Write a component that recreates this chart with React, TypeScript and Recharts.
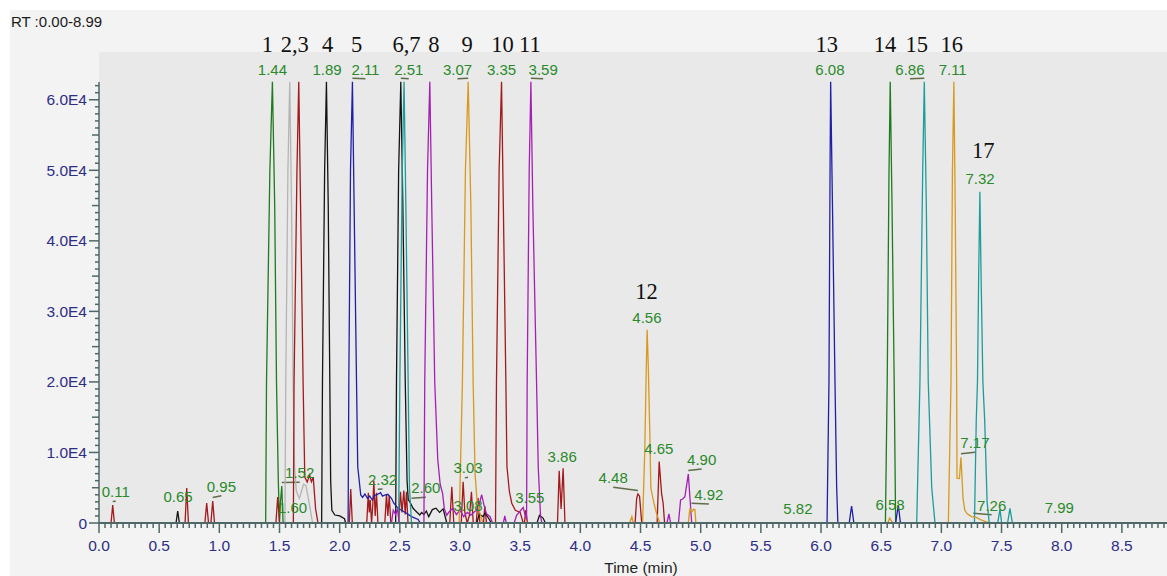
import {
  ComposedChart,
  Line,
  Scatter,
  XAxis,
  YAxis,
  ReferenceArea,
  ReferenceLine,
} from 'recharts';

// retention time (min), intensity
const greenTrace: [number, number][] = [
  [0, 0], [1.385, 0], [1.392, 20000], [1.42, 50000], [1.441, 62550], [1.46, 45000], [1.475, 20000],
  [1.49, 6000], [1.5, 0], [1.508, 3000], [1.519, 5250], [1.53, 0],
  [6.535, 0], [6.55, 20000], [6.565, 50000], [6.575, 62550], [6.59, 45000], [6.608, 20000], [6.62, 0],
  [8.875, 0],
];
const grayTrace: [number, number][] = [
  [0, 0], [1.545, 0], [1.552, 20000], [1.57, 50000], [1.585, 62550], [1.6, 45000], [1.613, 20000],
  [1.625, 8000], [1.64, 4500], [1.665, 3500], [1.7, 5500], [1.72, 5300], [1.75, 2500], [1.775, 0],
  [8.875, 0],
];
const redTrace: [number, number][] = [
  [0, 0], [0.1, 0], [0.114, 2550], [0.128, 0], [0.715, 0], [0.729, 4960], [0.743, 0],
  [0.88, 0], [0.895, 2840], [0.91, 0], [0.93, 0], [0.945, 3120], [0.96, 0],
  [1.47, 0], [1.485, 3690], [1.5, 0],
  [1.615, 0], [1.621, 20000], [1.645, 50000], [1.66, 62550], [1.675, 45000], [1.696, 20000],
  [1.71, 6500], [1.73, 5800], [1.75, 6800], [1.765, 5850], [1.78, 6500], [1.8, 2000], [1.82, 0],
  [2.08, 0], [2.092, 4820], [2.105, 0],
  [2.225, 0], [2.238, 4300], [2.246, 1500], [2.254, 3260], [2.265, 0], [2.275, 2500], [2.284, 6000],
  [2.295, 1000], [2.306, 4300], [2.318, 0], [2.375, 0], [2.389, 4110], [2.4, 1000], [2.412, 3900],
  [2.425, 0], [2.49, 0], [2.505, 4440], [2.518, 1500], [2.533, 4600], [2.545, 1200], [2.555, 4440],
  [2.568, 0], [2.915, 0], [2.932, 5150], [2.948, 0], [3.01, 0], [3.026, 5860], [3.04, 1500],
  [3.06, 0], [3.08, 1200], [3.095, 4440], [3.11, 0], [3.135, 0], [3.15, 3550], [3.165, 0],
  [3.195, 0], [3.206, 2400], [3.22, 0],
  [3.295, 0], [3.303, 20000], [3.325, 50000], [3.345, 62550], [3.36, 45000], [3.381, 20000],
  [3.39, 8000], [3.41, 4500], [3.43, 2800], [3.46, 1800], [3.5, 1500], [3.525, 0],
  [3.535, 0], [3.547, 1840], [3.56, 0],
  [3.81, 0], [3.824, 7420], [3.84, 2000], [3.857, 7760], [3.872, 0],
  [4.455, 0], [4.468, 3500], [4.478, 4110], [4.492, 3800], [4.51, 0],
  [4.638, 0], [4.655, 8700], [4.675, 4210], [4.688, 2790], [4.7, 0],
  [8.875, 0],
];
const blackTrace: [number, number][] = [
  [0, 0], [0.64, 0], [0.654, 1700], [0.668, 0],
  [1.85, 0], [1.857, 20000], [1.875, 50000], [1.89, 62550], [1.905, 45000], [1.918, 20000],
  [1.925, 6000], [1.935, 1800], [1.96, 1130], [2.0, 1000], [2.04, 600], [2.05, 0],
  [2.465, 0], [2.472, 20000], [2.49, 50000], [2.508, 62550], [2.525, 45000], [2.545, 20000],
  [2.56, 6000], [2.57, 3300], [2.583, 3000], [2.61, 2080], [2.638, 1600], [2.666, 1130],
  [2.68, 1500], [2.7, 1200], [2.72, 1700], [2.74, 900], [2.77, 1900], [2.8, 2100], [2.83, 1500],
  [2.86, 2000], [2.89, 0], [3.14, 0], [3.16, 1300], [3.19, 900], [3.21, 1400], [3.24, 600],
  [3.26, 0], [3.64, 0], [3.66, 1100], [3.69, 700], [3.71, 0],
  [8.875, 0],
];
const blueTrace: [number, number][] = [
  [0, 0], [2.07, 0], [2.076, 20000], [2.09, 50000], [2.106, 62550], [2.12, 45000], [2.14, 20000],
  [2.15, 8000], [2.175, 3970], [2.19, 3640], [2.21, 4110], [2.23, 3500], [2.25, 3830],
  [2.27, 3260], [2.29, 3900], [2.305, 3970], [2.34, 4300], [2.356, 3800], [2.375, 3970],
  [2.4, 4070], [2.43, 3500], [2.45, 2800], [2.485, 2080], [2.514, 1800], [2.555, 1380],
  [2.597, 900], [2.652, 500], [2.67, 0],
  [6.05, 0], [6.066, 20000], [6.075, 50000], [6.08, 62550], [6.095, 45000], [6.116, 20000],
  [6.13, 5000], [6.14, 0], [6.234, 0], [6.254, 2410], [6.273, 0], [6.62, 0], [6.642, 2550],
  [6.66, 0],
  [8.875, 0],
];
const tealTrace: [number, number][] = [
  [0, 0], [2.49, 0], [2.5, 20000], [2.52, 50000], [2.535, 62550], [2.55, 45000], [2.569, 20000],
  [2.58, 5000], [2.597, 0],
  [6.795, 0], [6.822, 20000], [6.845, 50000], [6.858, 62550], [6.875, 45000], [6.891, 20000],
  [6.92, 5000], [6.947, 0],
  [7.275, 0], [7.29, 14600], [7.3, 20000], [7.31, 35000], [7.32, 46950], [7.33, 35000],
  [7.345, 20000], [7.36, 14600], [7.38, 3000], [7.398, 0],
  [7.468, 0], [7.487, 1940], [7.501, 0], [7.55, 0], [7.57, 2080], [7.59, 0],
  [8.875, 0],
];
const magentaTrace: [number, number][] = [
  [0, 0], [2.43, 0], [2.445, 1800], [2.465, 1200], [2.48, 2000], [2.495, 0],
  [2.7, 0], [2.707, 20000], [2.73, 50000], [2.749, 62550], [2.765, 45000], [2.79, 20000],
  [2.815, 9000], [2.835, 5500], [2.855, 4200], [2.87, 2000], [2.89, 1100], [2.91, 1600],
  [2.94, 2100], [2.97, 1200], [3.0, 1800], [3.03, 900], [3.06, 1500], [3.09, 1100], [3.12, 1600],
  [3.15, 2000], [3.165, 3000], [3.18, 4000], [3.2, 2500], [3.22, 1300], [3.25, 900], [3.27, 0],
  [3.36, 0], [3.372, 1000], [3.385, 0], [3.45, 0], [3.47, 1100], [3.5, 1700], [3.525, 2200],
  [3.54, 1200], [3.553, 500], [3.558, 20000], [3.575, 50000], [3.589, 62550], [3.605, 45000],
  [3.636, 20000], [3.65, 8000], [3.669, 1000], [3.68, 0],
  [4.72, 0], [4.736, 1300], [4.75, 0],
  [4.815, 0], [4.833, 3260], [4.85, 3400], [4.869, 3730], [4.897, 6950], [4.916, 2310], [4.925, 0],
  [8.875, 0],
];
const orangeTrace: [number, number][] = [
  [0, 0], [2.993, 0], [3.02, 20000], [3.045, 50000], [3.068, 62550], [3.09, 45000], [3.109, 20000],
  [3.125, 7000], [3.142, 3000], [3.165, 1400], [3.19, 0],
  [4.41, 0], [4.428, 890], [4.44, 0],
  [4.517, 0], [4.535, 10000], [4.548, 22000], [4.555, 27380], [4.565, 22000], [4.578, 12000],
  [4.586, 4920], [4.611, 2840], [4.633, 1370], [4.66, 0],
  [4.897, 0], [4.91, 2080], [4.924, 1500], [4.94, 1940], [4.952, 1900], [4.96, 0],
  [6.555, 0], [6.57, 700], [6.585, 300], [6.6, 0],
  [7.058, 0], [7.08, 20000], [7.092, 50000], [7.104, 62550], [7.115, 45000], [7.127, 20000],
  [7.13, 6340], [7.15, 6300], [7.163, 9320], [7.18, 3500], [7.195, 1800], [7.215, 1300],
  [7.25, 900], [7.29, 800], [7.33, 430], [7.4, 0],
  [8.875, 0],
];

// retention-time labels: text, label position (time, height of text baseline)
const rtTexts = [
  '1.44', '1.89', '2.11', '2.51', '3.07', '3.35', '3.59', '4.56', '6.08', '6.86', '7.11', '7.32',
  '0.11', '0.65', '0.95', '1.52', '1.60', '2.32', '2.60', '3.03', '3.08', '3.55', '3.86', '4.48',
  '4.65', '4.90', '4.92', '5.82', '6.58', '7.17', '7.26', '7.99',
];
const rtTimes = [
  1.441, 1.895, 2.214, 2.574, 2.979, 3.345, 3.691, 4.553, 6.074, 6.739, 7.094, 7.321,
  0.139, 0.657, 1.017, 1.668, 1.608, 2.356, 2.716, 3.067, 3.067, 3.58, 3.849, 4.273,
  4.652, 5.008, 5.068, 5.808, 6.573, 7.279, 7.418, 7.98,
];
const rtHeights = [
  63550, 63550, 63550, 63550, 63550, 63550, 63550, 28370, 63550, 63550, 63550, 48090,
  3650, 3020, 4440, 6340, 1380, 5390, 4210, 7050, 1700, 2790, 8700, 5630,
  9740, 8230, 3260, 1280, 1840, 10600, 1740, 1460,
];
// labels moved off their peak: apex (time, intensity) they point to
const leaderApex: Record<string, [number, number]> = {
  '2.11': [2.106, 62550],
  '2.51': [2.508, 62550],
  '3.07': [3.068, 62550],
  '3.59': [3.589, 62550],
  '6.86': [6.858, 62550],
  '0.11': [0.114, 2550],
  '0.95': [0.945, 3120],
  '1.52': [1.519, 5250],
  '2.32': [2.317, 4300],
  '2.60': [2.597, 3000],
  '3.03': [3.04, 5900],
  '4.48': [4.478, 4110],
  '4.90': [4.897, 6950],
  '4.92': [4.924, 2310],
  '7.17': [7.163, 9320],
  '7.26': [7.265, 900],
};

// compound numbers
const peakNumbers = ['1', '2,3', '4', '5', '6,7', '8', '9', '10', '11', '12', '13', '14', '15', '16', '17'];
const peakNumberTimes = [1.4, 1.627, 1.899, 2.14, 2.555, 2.782, 3.059, 3.353, 3.58, 4.55, 6.047, 6.531, 6.795, 7.086, 7.348];
const peakNumberHeights = [66700, 66700, 66700, 66700, 66700, 66700, 66700, 66700, 66700, 31710, 66700, 66700, 66700, 66700, 51700];

const xMajorTicks = [0, 0.5, 1, 1.5, 2, 2.5, 3, 3.5, 4, 4.5, 5, 5.5, 6, 6.5, 7, 7.5, 8, 8.5];
const xTickLabels = ['0.0', '0.5', '1.0', '1.5', '2.0', '2.5', '3.0', '3.5', '4.0', '4.5', '5.0', '5.5', '6.0', '6.5', '7.0', '7.5', '8.0', '8.5'];
const yMajorTicks = [0, 10000, 20000, 30000, 40000, 50000, 60000];
const yTickLabels = ['0', '1.0E4', '2.0E4', '3.0E4', '4.0E4', '5.0E4', '6.0E4'];

const X_MAX = 8.875;
const Y_MAX = 66770;
const PLOT_H = 471;
const UPP = Y_MAX / PLOT_H; // intensity units per pixel

const AXIS = '#4e6868';
const NAVY = '#2d2d86';
const RT_GREEN = '#2a8a2a';
const LEADER = '#5f6d48';
const SANS = '"Liberation Sans", Arial, sans-serif';

const xTicks: number[] = [];
for (let i = 0; i <= 177; i++) xTicks.push(Math.round(i * 5) / 100);
const yTicks: number[] = [];
for (let i = 0; i <= 62; i++) yTicks.push(i * 1000);

const rows = (pts: [number, number][]) => pts.map(([t, v]) => ({ t, v }));

const traces = [
  { name: 'gray', color: '#b4b4b4', pts: grayTrace },
  { name: 'green', color: '#1e7b1e', pts: greenTrace },
  { name: 'red', color: '#a3191c', pts: redTrace },
  { name: 'black', color: '#141414', pts: blackTrace },
  { name: 'blue', color: '#1f1fa8', pts: blueTrace },
  { name: 'teal', color: '#1d9c9c', pts: tealTrace },
  { name: 'magenta', color: '#a61fb4', pts: magentaTrace },
  { name: 'orange', color: '#d8991f', pts: orangeTrace },
];

const rtData = rtTexts.map((label, i) => ({ t: rtTimes[i], v: rtHeights[i], label }));
const numberData = peakNumbers.map((label, i) => ({ t: peakNumberTimes[i], v: peakNumberHeights[i], label }));

const XTick = (props: any) => {
  const { x, y, payload } = props;
  const idx = xMajorTicks.findIndex((m) => Math.abs(m - payload.value) < 1e-6);
  const major = idx >= 0;
  return (
    <g>
      <line x1={x} x2={x} y1={y} y2={y + (major ? 10 : 5)} stroke={AXIS} strokeWidth={1.5} />
      {major && (
        <text x={x} y={y + 28} textAnchor="middle" fontFamily={SANS} fontSize={15.5} fill={NAVY}>
          {xTickLabels[idx]}
        </text>
      )}
    </g>
  );
};

const YTick = (props: any) => {
  const { x, y, payload } = props;
  const idx = yMajorTicks.indexOf(payload.value);
  const len = idx >= 0 ? 10 : payload.value % 5000 === 0 ? 7 : 4;
  return (
    <g>
      <line x1={x - len} x2={x} y1={y} y2={y} stroke={AXIS} strokeWidth={1.5} />
      {idx >= 0 && (
        <text x={x - 12} y={y + 5.5} textAnchor="end" fontFamily={SANS} fontSize={15.5} fill={NAVY}>
          {yTickLabels[idx]}
        </text>
      )}
    </g>
  );
};

const RtLabel = (props: any) => (
  <text x={props.cx} y={props.cy} textAnchor="middle" fontFamily={SANS} fontSize={15} fill={RT_GREEN}>
    {props.payload.label}
  </text>
);

const NumberLabel = (props: any) => (
  <text x={props.cx} y={props.cy} textAnchor="middle" fontFamily='"Liberation Serif", serif' fontSize={22.5} fill="#111">
    {props.payload.label}
  </text>
);

const App = () => {
  return (
    <div style={{ position: 'absolute', left: 0, top: 0, width: 1167, height: 576, background: '#fff', overflow: 'hidden' }}>
      <div style={{ position: 'absolute', left: 10, top: 10, right: 0, bottom: 0, background: '#f3f3f3' }} />
      <div
        style={{
          position: 'absolute',
          left: 11,
          top: 14,
          fontFamily: SANS,
          fontSize: 15,
          lineHeight: '15px',
          color: '#1a1a1a',
          whiteSpace: 'nowrap',
        }}
      >
        RT :0.00-8.99
      </div>
      <div style={{ position: 'absolute', left: 0, top: 0 }}>
        <ComposedChart width={1167} height={576} margin={{ top: 52, right: 0, bottom: 0, left: 0 }}>
          <XAxis
            type="number"
            dataKey="t"
            domain={[0, X_MAX]}
            ticks={xTicks}
            interval={0}
            tick={<XTick />}
            tickLine={false}
            tickSize={0}
            tickMargin={0}
            axisLine={{ stroke: AXIS, strokeWidth: 2 }}
            height={53}
            label={{
              content: (p: any) => {
                const vb = p.viewBox;
                return (
                  <text x={vb.x + vb.width / 2 + 8} y={vb.y + 50} textAnchor="middle" fontFamily={SANS} fontSize={15.5} fill="#222">
                    Time (min)
                  </text>
                );
              },
            }}
          />
          <YAxis
            type="number"
            domain={[0, Y_MAX]}
            ticks={yTicks}
            interval={0}
            tick={<YTick />}
            tickLine={false}
            tickSize={0}
            tickMargin={0}
            axisLine={false}
            width={99}
          />
          <ReferenceArea x1={0} x2={X_MAX} y1={0} y2={Y_MAX} fill="#e9e9e9" fillOpacity={1} stroke="none" ifOverflow="visible" />
          <ReferenceLine segment={[{ x: 0, y: 0 }, { x: 0, y: 62500 }]} stroke={AXIS} strokeWidth={1.5} ifOverflow="visible" />
          {rtTexts
            .filter((txt) => leaderApex[txt])
            .map((txt) => {
              const i = rtTexts.indexOf(txt);
              const [at, av] = leaderApex[txt];
              return (
                <ReferenceLine
                  key={'ld' + txt}
                  segment={[
                    { x: at, y: av + 3.5 * UPP },
                    { x: rtTimes[i], y: rtHeights[i] - 4 * UPP },
                  ]}
                  stroke={LEADER}
                  strokeWidth={1.5}
                  ifOverflow="visible"
                />
              );
            })}
          <Scatter data={rtData} dataKey="v" shape={<RtLabel />} isAnimationActive={false} />
          <Scatter data={numberData} dataKey="v" shape={<NumberLabel />} isAnimationActive={false} />
          {traces.map((s) => (
            <Line
              key={s.name}
              data={rows(s.pts)}
              dataKey="v"
              type="linear"
              stroke={s.color}
              strokeWidth={1.3}
              dot={false}
              activeDot={false}
              isAnimationActive={false}
            />
          ))}
        </ComposedChart>
      </div>
    </div>
  );
};

export default App;
